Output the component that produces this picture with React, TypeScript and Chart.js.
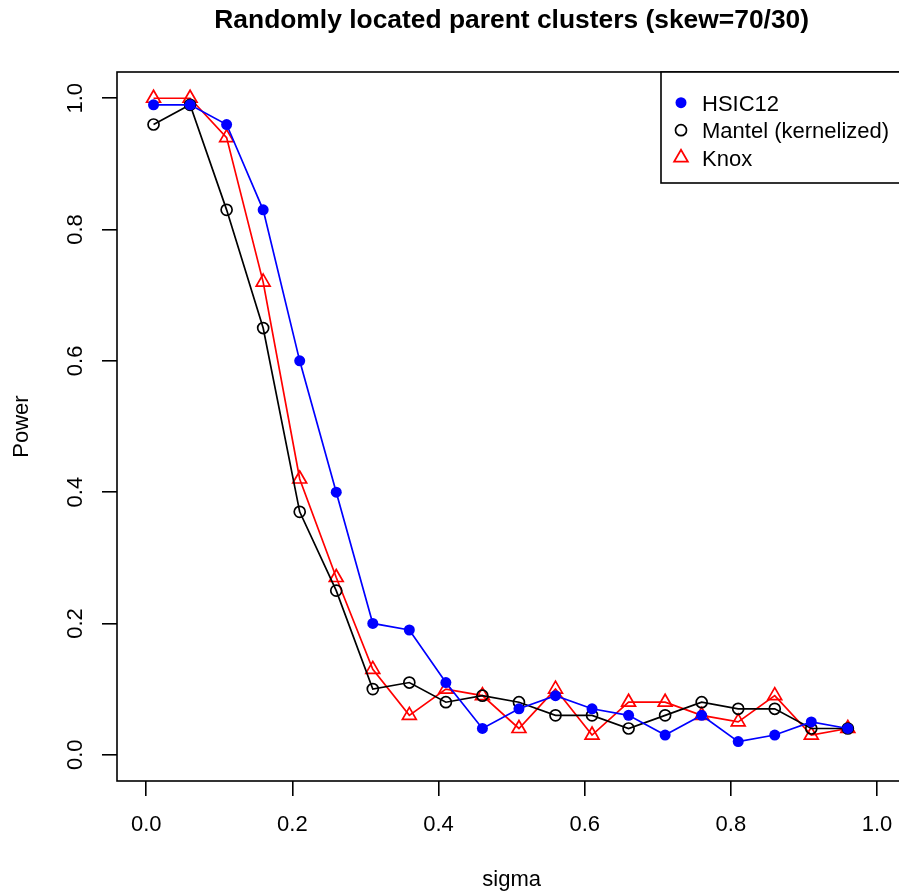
import React, { useEffect, useRef } from "react";
import { Chart, registerables } from "chart.js";

Chart.register(...registerables);

const sigma = [0.01, 0.06, 0.11, 0.16, 0.21, 0.26, 0.31, 0.36, 0.41, 0.46, 0.51, 0.56, 0.61, 0.66, 0.71, 0.76, 0.81, 0.86, 0.91, 0.96];
const hsic12 = [0.99, 0.99, 0.96, 0.83, 0.60, 0.40, 0.20, 0.19, 0.11, 0.04, 0.07, 0.09, 0.07, 0.06, 0.03, 0.06, 0.02, 0.03, 0.05, 0.04];
const mantel = [0.96, 0.99, 0.83, 0.65, 0.37, 0.25, 0.10, 0.11, 0.08, 0.09, 0.08, 0.06, 0.06, 0.04, 0.06, 0.08, 0.07, 0.07, 0.04, 0.04];
const knox = [1.00, 1.00, 0.94, 0.72, 0.42, 0.27, 0.13, 0.06, 0.10, 0.09, 0.04, 0.10, 0.03, 0.08, 0.08, 0.06, 0.05, 0.09, 0.03, 0.04];
const xTicks = [0, 0.2, 0.4, 0.6, 0.8, 1.0];
const yTicks = [0, 0.2, 0.4, 0.6, 0.8, 1.0];

const TITLE = "Randomly located parent clusters (skew=70/30)";
const FONT = "'Liberation Sans', Arial, Helvetica, sans-serif";
const CANVAS_W = 916;

const toPts = (ys: number[]) => sigma.map((x, i) => ({ x, y: ys[i] }));

const overlayPlugin = {
  id: "rOverlay",
  afterDraw(chart: any) {
    const { ctx, chartArea } = chart;
    ctx.save();
    // plot box
    ctx.strokeStyle = "#000";
    ctx.lineWidth = 1.6;
    ctx.strokeRect(chartArea.left, chartArea.top, chartArea.right - chartArea.left, chartArea.bottom - chartArea.top);
    // title
    ctx.fillStyle = "#000";
    ctx.font = `bold 26.4px ${FONT}`;
    ctx.textAlign = "center";
    ctx.textBaseline = "alphabetic";
    ctx.fillText(TITLE, (chartArea.left + chartArea.right) / 2, 28);
    // legend (top-right inside plot)
    const boxLeft = 661;
    const boxTop = chartArea.top;
    const boxBottom = 183;
    ctx.lineWidth = 1.6;
    ctx.fillStyle = "#fff";
    ctx.fillRect(boxLeft, boxTop, chartArea.right - boxLeft, boxBottom - boxTop);
    ctx.strokeRect(boxLeft, boxTop, chartArea.right - boxLeft, boxBottom - boxTop);
    const rows = [102.7, 130.2, 157.7];
    chart.data.datasets.forEach((ds: any, i: number) => {
      const cy = rows[i];
      const mx = 681;
      ctx.lineWidth = 1.7;
      ctx.strokeStyle = ds.borderColor;
      ctx.fillStyle = ds.borderColor;
      ctx.beginPath();
      if (ds.pointStyle === "triangle") {
        const r = 8;
        ctx.moveTo(mx, cy - r);
        ctx.lineTo(mx + r * Math.sqrt(3) / 2, cy + r / 2);
        ctx.lineTo(mx - r * Math.sqrt(3) / 2, cy + r / 2);
        ctx.closePath();
        ctx.stroke();
      } else {
        ctx.arc(mx, cy, ds.pointRadius, 0, Math.PI * 2);
        if (ds.pointBackgroundColor !== "transparent") ctx.fill();
        else ctx.stroke();
      }
      ctx.fillStyle = "#000";
      ctx.font = `22px ${FONT}`;
      ctx.textAlign = "left";
      ctx.textBaseline = "alphabetic";
      ctx.fillText(ds.label, 702, cy + 8);
    });
    ctx.restore();
  },
};

export default function App() {
  const ref = useRef<HTMLCanvasElement | null>(null);
  useEffect(() => {
    if (!ref.current) return;
    const tickFont = { family: FONT, size: 22, lineHeight: 1.2 };
    const chart = new Chart(ref.current, {
      type: "line",
      data: {
        datasets: [
          {
            label: "HSIC12",
            data: toPts(hsic12),
            borderColor: "#0000FF",
            backgroundColor: "#0000FF",
            pointBackgroundColor: "#0000FF",
            pointBorderColor: "#0000FF",
            pointStyle: "circle",
            pointRadius: 5.5,
            pointBorderWidth: 0,
            borderWidth: 1.7,
            order: 0,
          },
          {
            label: "Mantel (kernelized)",
            data: toPts(mantel),
            borderColor: "#000000",
            backgroundColor: "transparent",
            pointBackgroundColor: "transparent",
            pointBorderColor: "#000000",
            pointStyle: "circle",
            pointRadius: 5.5,
            pointBorderWidth: 1.7,
            borderWidth: 1.7,
            order: 1,
          },
          {
            label: "Knox",
            data: toPts(knox),
            borderColor: "#FF0000",
            backgroundColor: "transparent",
            pointBackgroundColor: "transparent",
            pointBorderColor: "#FF0000",
            pointStyle: "triangle",
            pointRadius: 8,
            pointBorderWidth: 1.7,
            borderWidth: 1.7,
            order: 2,
          },
        ] as any,
      },
      options: {
        animation: false,
        responsive: false,
        devicePixelRatio: 1,
        events: [],
        layout: { padding: { top: 72, left: 0, right: 4, bottom: 0 } },
        plugins: { legend: { display: false }, tooltip: { enabled: false }, title: { display: false } },
        elements: { line: { tension: 0 } },
        scales: {
          x: {
            type: "linear",
            min: -0.04,
            max: 1.04,
            afterBuildTicks: (s: any) => { s.ticks = xTicks.map((v) => ({ value: v })); },
            afterFit: (s: any) => { s.height = 113; s.paddingLeft = 0; s.paddingRight = 0; },
            ticks: {
              autoSkip: false,
              maxRotation: 0,
              minRotation: 0,
              padding: 16,
              color: "#000",
              font: tickFont,
              callback: (v: any) => Number(v).toFixed(1),
            },
            grid: { display: true, drawOnChartArea: false, drawTicks: true, tickLength: 15, color: "#000", lineWidth: 1.6 },
            border: { display: false },
            title: { display: true, text: "sigma", color: "#000", font: { family: FONT, size: 22, lineHeight: 1 }, padding: { top: 0, bottom: 3 } },
          },
          y: {
            type: "linear",
            min: -0.04,
            max: 1.04,
            afterBuildTicks: (s: any) => { s.ticks = yTicks.map((v) => ({ value: v })); },
            afterFit: (s: any) => { s.width = 117; s.paddingTop = 0; s.paddingBottom = 0; },
            ticks: {
              autoSkip: false,
              minRotation: 90,
              maxRotation: 90,
              crossAlign: "center",
              padding: 11,
              color: "#000",
              font: tickFont,
              callback: (v: any) => Number(v).toFixed(1),
            },
            grid: { display: true, drawOnChartArea: false, drawTicks: true, tickLength: 15, color: "#000", lineWidth: 1.6 },
            border: { display: false },
            title: { display: true, text: "Power", color: "#000", font: { family: FONT, size: 22, lineHeight: 1 }, padding: { top: 11, bottom: 0 } },
          },
        },
      } as any,
      plugins: [overlayPlugin],
    });
    return () => chart.destroy();
  }, []);
  return (
    <div style={{ position: "fixed", left: 0, top: 0, width: 899, height: 894, overflow: "hidden", background: "#fff" }}>
      <div style={{ width: CANVAS_W, height: 894 }}>
        <canvas ref={ref} width={CANVAS_W} height={894} style={{ width: CANVAS_W, height: 894, display: "block" }} />
      </div>
    </div>
  );
}
